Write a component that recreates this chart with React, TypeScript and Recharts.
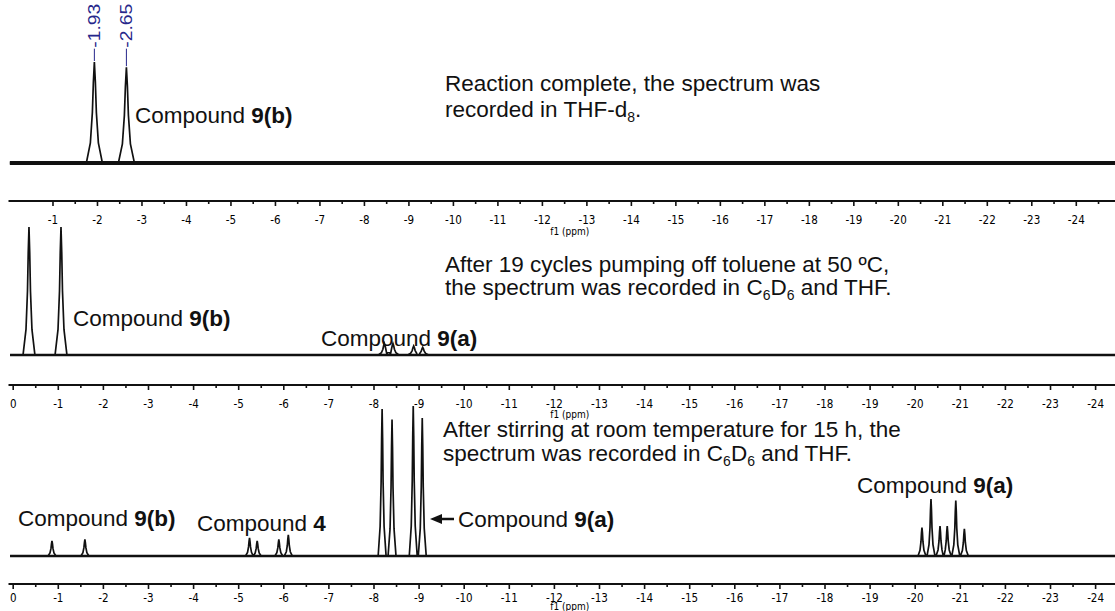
import React from "react";
import { LineChart, Line, XAxis, YAxis, ReferenceLine } from "recharts";

// ── Peak lists (ppm, relative intensity) ──
const TOP_PEAK_PPM = [-1.93, -2.65];
const TOP_PEAK_INT = [98, 93];
const TOP_PEAK_LABELS = ["-1.93", "-2.65"];

const MID_PEAK_PPM = [-0.35, -1.06, -8.23, -8.42, -8.88, -9.08];
const MID_PEAK_INT = [100, 100, 9, 9, 7, 6];

const BOT_PEAK_PPM = [
  -0.86, -1.59, -5.24, -5.41, -5.89, -6.1, -8.18, -8.4, -8.87, -9.07,
  -20.15, -20.35, -20.55, -20.71, -20.9, -21.09,
];
const BOT_PEAK_INT = [10, 11, 12, 10, 11, 14, 98, 91, 100, 92, 19, 38, 20, 20, 37, 18];

// ── Axis ticks (ppm) ────────────────────────────────────────────────
const TICKS_TOP = [
  -1, -2, -3, -4, -5, -6, -7, -8, -9, -10, -11, -12, -13, -14, -15, -16, -17, -18,
  -19, -20, -21, -22, -23, -24,
];
const TICKS_FULL = [
  0, -1, -2, -3, -4, -5, -6, -7, -8, -9, -10, -11, -12, -13, -14, -15, -16, -17,
  -18, -19, -20, -21, -22, -23, -24,
];

// peak line shape, offsets in half-widths and fraction of the peak height
const SHAPE_X = [-4, -2, -1, -0.5, 0, 0.5, 1, 2, 4];
const SHAPE_Y = [0, 0.2, 0.5, 0.8, 1, 0.8, 0.5, 0.2, 0];

const W = 1115;
const H = 611;
const INK = "#111";
const BLUE = "#26268a";
const TEXT_FONT = "'Liberation Sans', Arial, Helvetica, sans-serif";
const TICK_FONT = "'DejaVu Sans Condensed', 'DejaVu Sans', sans-serif";

type Pt = { ppm: number; y: number };

function buildTrace(ppm: number[], ints: number[], hw: number, from: number, to: number): Pt[] {
  const pts: Pt[] = [
    { ppm: from, y: 0 },
    { ppm: to, y: 0 },
  ];
  ppm.forEach((p, i) => {
    SHAPE_X.forEach((s, k) => pts.push({ ppm: p + s * hw, y: ints[i] * SHAPE_Y[k] }));
  });
  return pts.sort((a, b) => b.ppm - a.ppm);
}

function PpmTick(props: any) {
  const { x, y, payload, labelGap } = props;
  const v = payload.value as number;
  const major = Number.isInteger(v);
  const ay = y - 7; // tickSize + tickMargin
  return (
    <g>
      <line x1={x} x2={x} y1={ay} y2={ay + (major ? 5 : 3)} stroke={INK} strokeWidth={1.6} />
      {major && (
        <text
          x={x}
          y={ay + (labelGap ?? 23)}
          textAnchor="middle"
          fontSize={11.5}
          fontFamily={TICK_FONT}
          fill="#000"
        >
          {v}
        </text>
      )}
    </g>
  );
}

function AxisTitle(props: any) {
  const vb = props.viewBox;
  if (!vb) return null;
  return (
    <text
      x={vb.x + vb.width / 2 + 8}
      y={vb.y + (props.gap ?? 34)}
      textAnchor="middle"
      fontSize={10}
      fontFamily={TICK_FONT}
      fill="#000"
    >
      f1 (ppm)
    </text>
  );
}

function PeakLabel(props: any) {
  const vb = props.viewBox || {};
  const x = vb.x ?? vb.x1;
  const y = vb.y ?? Math.min(vb.y1, vb.y2);
  return (
    <text
      transform={`translate(${x},${y - 1}) rotate(-90)`}
      dy="0.36em"
      fontSize={16}
      fontFamily={TEXT_FONT}
      fill={BLUE}
      textLength={44}
      lengthAdjust="spacingAndGlyphs"
    >
      {props.text}
    </text>
  );
}

interface PanelProps {
  top: number;
  height: number;
  marginTop: number;
  axisHeight: number;
  xDomain: [number, number];
  yDomain: [number, number];
  majors: number[];
  trace: Pt[];
  bandWidth: number;
  labelGap?: number;
  titleGap?: number;
  children?: React.ReactNode;
}

function Panel({
  top,
  height,
  marginTop,
  axisHeight,
  xDomain,
  yDomain,
  majors,
  trace,
  bandWidth,
  labelGap,
  titleGap,
  children,
}: PanelProps) {
  const minors = majors
    .map((t) => t - 0.5)
    .filter((t) => t >= xDomain[0] && t <= xDomain[1]);
  const ticks = [...majors, ...minors].sort((a, b) => b - a);
  const band = [
    { ppm: trace[0].ppm, y: 0 },
    { ppm: trace[trace.length - 1].ppm, y: 0 },
  ];
  return (
    <div style={{ position: "absolute", left: 0, top, width: W, height }}>
      <LineChart
        width={W}
        height={height}
        margin={{ top: marginTop, right: 0, bottom: 0, left: 8.5 }}
        style={{ overflow: "visible" }}
      >
        <XAxis
          type="number"
          dataKey="ppm"
          domain={xDomain}
          reversed
          allowDataOverflow
          ticks={ticks}
          interval={0}
          height={axisHeight}
          tickSize={5}
          tickMargin={2}
          tickLine={false}
          axisLine={{ stroke: INK, strokeWidth: 2 }}
          tick={<PpmTick labelGap={labelGap} />}
          label={<AxisTitle gap={titleGap} />}
        />
        <YAxis type="number" hide domain={yDomain} allowDataOverflow />
        <Line
          data={band}
          dataKey="y"
          stroke={INK}
          strokeWidth={bandWidth}
          dot={false}
          isAnimationActive={false}
        />
        <Line
          data={trace}
          dataKey="y"
          type="linear"
          stroke={INK}
          strokeWidth={1.7}
          dot={false}
          isAnimationActive={false}
        />
        {children}
      </LineChart>
    </div>
  );
}

export default function App() {
  const topTrace = buildTrace(TOP_PEAK_PPM, TOP_PEAK_INT, 0.045, -0.03, -24.87);
  const midTrace = buildTrace(MID_PEAK_PPM, MID_PEAK_INT, 0.033, 0.07, -24.43);
  const botTrace = buildTrace(BOT_PEAK_PPM, BOT_PEAK_INT, 0.022, 0.07, -24.43);
  const LABEL_LEVEL = 111;

  return (
    <div
      style={{
        position: "absolute",
        left: 0,
        top: 0,
        width: W,
        height: H,
        overflow: "hidden",
        background: "#fff",
      }}
    >
      <Panel
        top={0}
        height={245}
        marginTop={5}
        axisHeight={44}
        xDomain={[-24.87, 0]}
        yDomain={[-36.9, 153.4]}
        majors={TICKS_TOP}
        trace={topTrace}
        bandWidth={4}
      >
        {TOP_PEAK_PPM.map((p, i) => (
          <ReferenceLine
            key={p}
            segment={[
              { x: p, y: TOP_PEAK_INT[i] + 1 },
              { x: p, y: LABEL_LEVEL },
            ]}
            stroke={BLUE}
            strokeWidth={1}
            ifOverflow="visible"
            label={<PeakLabel text={TOP_PEAK_LABELS[i]} />}
          />
        ))}
      </Panel>
      <Panel
        top={215}
        height={214}
        marginTop={0}
        axisHeight={44}
        xDomain={[-24.43, 0.104]}
        yDomain={[-23.4, 109.4]}
        majors={TICKS_FULL}
        trace={midTrace}
        bandWidth={2.6}
        titleGap={33}
      />
      <Panel
        top={395}
        height={216}
        marginTop={0}
        axisHeight={27}
        xDomain={[-24.43, 0.104]}
        yDomain={[-18.7, 107.3]}
        majors={TICKS_FULL}
        trace={botTrace}
        bandWidth={2.6}
        labelGap={18}
        titleGap={26}
      />

      {/* annotations */}
      <svg
        width={W}
        height={H}
        style={{ position: "absolute", left: 0, top: 0, pointerEvents: "none" }}
        fontFamily={TEXT_FONT}
        fontSize={22.5}
        fill="#111"
      >
        <text x={445} y={91}>Reaction complete, the spectrum was</text>
        <text x={445} y={117}>
          recorded in THF-d
          <tspan fontSize={14} dy={5}>8</tspan>
          <tspan dy={-5}>.</tspan>
        </text>
        <text x={135} y={123}>
          Compound <tspan fontWeight="bold">9(b)</tspan>
        </text>

        <text x={445} y={272}>After 19 cycles pumping off toluene at 50 ºC,</text>
        <text x={445} y={295}>
          the spectrum was recorded in C
          <tspan fontSize={14} dy={5}>6</tspan>
          <tspan dy={-5}>D</tspan>
          <tspan fontSize={14} dy={5}>6</tspan>
          <tspan dy={-5}>{" and THF."}</tspan>
        </text>
        <text x={73} y={326}>
          Compound <tspan fontWeight="bold">9(b)</tspan>
        </text>
        <text x={321} y={346}>
          Compound <tspan fontWeight="bold">9(a)</tspan>
        </text>

        <text x={443} y={437}>After stirring at room temperature for 15 h, the</text>
        <text x={443} y={461}>
          spectrum was recorded in C
          <tspan fontSize={14} dy={5}>6</tspan>
          <tspan dy={-5}>D</tspan>
          <tspan fontSize={14} dy={5}>6</tspan>
          <tspan dy={-5}>{" and THF."}</tspan>
        </text>
        <text x={857} y={493}>
          Compound <tspan fontWeight="bold">9(a)</tspan>
        </text>
        <text x={18} y={526}>
          Compound <tspan fontWeight="bold">9(b)</tspan>
        </text>
        <text x={197} y={531}>
          Compound <tspan fontWeight="bold">4</tspan>
        </text>
        <line x1={440} x2={454} y1={519} y2={519} stroke="#111" strokeWidth={2.5} />
        <polygon points="430,519 442,514 442,524" fill="#111" />
        <text x={458} y={527}>
          Compound <tspan fontWeight="bold">9(a)</tspan>
        </text>
      </svg>
    </div>
  );
}
